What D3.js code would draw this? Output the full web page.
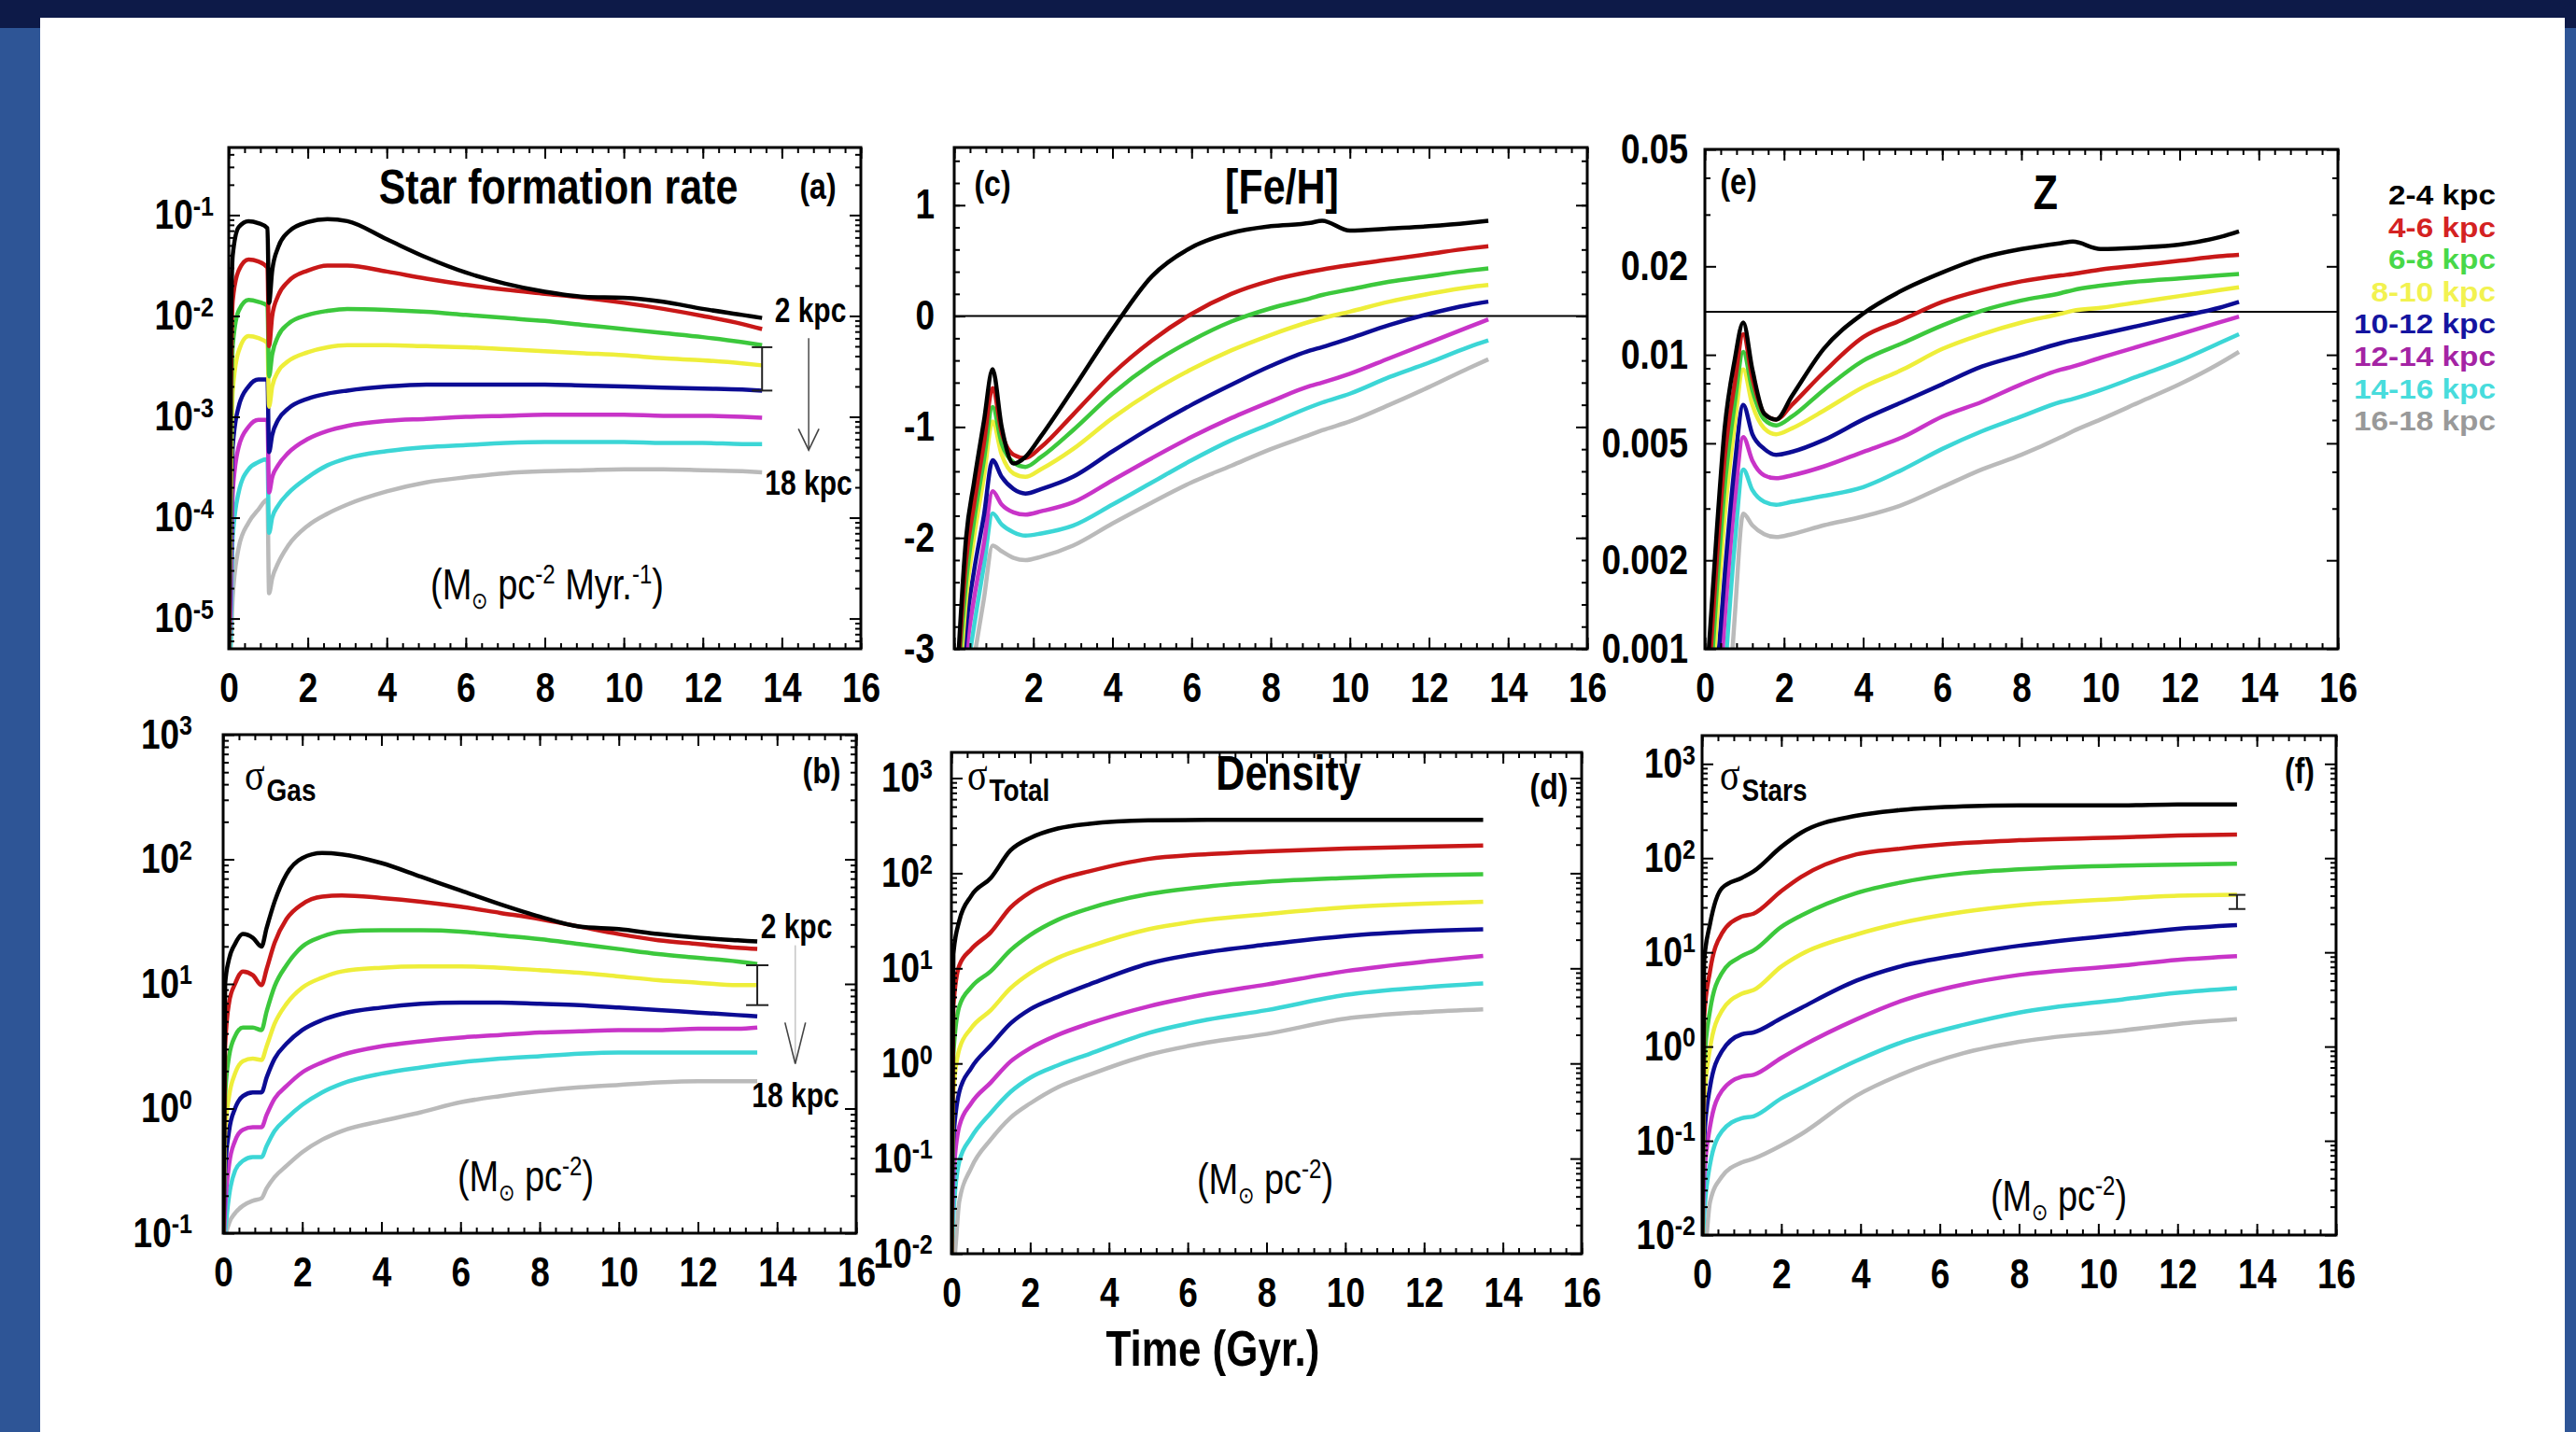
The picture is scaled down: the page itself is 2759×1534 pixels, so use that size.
<!DOCTYPE html>
<html>
<head>
<meta charset="utf-8">
<script src="https://cdn.jsdelivr.net/npm/d3@7"></script>
<style>
  body { margin: 0; background: #fff; }
  svg { display: block; }
</style>
</head>
<body>
<div id="chart"></div>
<script>
// ---------- values ----------
const zones = ['2-4 kpc', '4-6 kpc', '6-8 kpc', '8-10 kpc', '10-12 kpc', '12-14 kpc', '14-16 kpc', '16-18 kpc'];
const xTicks = [0, 2, 4, 6, 8, 10, 12, 14, 16];
const feTicks = [-3, -2, -1, 0, 1];
const zTicks = [0.001, 0.002, 0.005, 0.01, 0.02, 0.05];
const zTickLabels = ['0.001', '0.002', '0.005', '0.01', '0.02', '0.05'];
const zSolar = 0.014;

// (a) star formation rate, log10(Msun pc^-2 Myr^-1)
const sfrTime = [0, 0.04, 0.1, 0.25, 0.5, 0.75, 0.98, 1.02, 1.1, 1.25, 1.5, 2, 2.5, 3, 4, 5, 6, 7, 8, 9, 10, 11, 12, 13, 13.5];
const sfrLog = [
  [-5.3, -2.8, -1.4, -1.12, -1.06, -1.08, -1.13, -1.87, -1.55, -1.32, -1.17, -1.07, -1.04, -1.06, -1.24, -1.42, -1.57, -1.68, -1.76, -1.81, -1.82, -1.86, -1.93, -1.99, -2.02],
  [-5.3, -3.3, -1.85, -1.55, -1.44, -1.46, -1.52, -2.3, -2.0, -1.8, -1.66, -1.55, -1.5, -1.5, -1.56, -1.63, -1.69, -1.74, -1.78, -1.82, -1.87, -1.93, -2.0, -2.08, -2.13],
  [-5.3, -3.8, -2.3, -1.95, -1.84, -1.86, -1.9, -2.6, -2.38, -2.2, -2.08, -1.99, -1.95, -1.93, -1.94, -1.96, -1.99, -2.02, -2.05, -2.09, -2.13, -2.17, -2.21, -2.26, -2.29],
  [-5.3, -4.2, -2.75, -2.35, -2.2, -2.22, -2.27, -2.9, -2.7, -2.55, -2.45, -2.36, -2.31, -2.29, -2.29, -2.3, -2.31, -2.33, -2.35, -2.37, -2.39, -2.42, -2.44, -2.47, -2.49],
  [-5.3, -4.6, -3.3, -2.9, -2.7, -2.63, -2.63, -3.35, -3.18, -3.03, -2.92, -2.82, -2.77, -2.74, -2.7, -2.68, -2.68, -2.68, -2.68, -2.69, -2.7, -2.71, -2.72, -2.73, -2.74],
  [-5.3, -5.0, -3.75, -3.3, -3.1, -3.03, -3.03, -3.75, -3.6, -3.48, -3.36, -3.22, -3.14, -3.09, -3.04, -3.02, -3.0, -2.99, -2.98, -2.98, -2.98, -2.99, -2.99, -3.0, -3.01],
  [-5.3, -5.3, -4.2, -3.75, -3.52, -3.45, -3.42, -4.15, -4.0, -3.88, -3.76, -3.6, -3.48, -3.41, -3.34, -3.3, -3.28, -3.26, -3.25, -3.25, -3.25, -3.26, -3.26, -3.27, -3.27],
  [-5.3, -5.3, -4.8, -4.3, -4.05, -3.92, -3.82, -4.75, -4.6, -4.45, -4.28, -4.08, -3.96, -3.87, -3.74, -3.65, -3.6, -3.56, -3.54, -3.53, -3.52, -3.52, -3.53, -3.54, -3.55]
];
const sfrErrorBar = [13.5, -2.74, -2.31];
const sfrArrow = [14.68, -2.22, -3.33, -3.12];

// (c) [Fe/H] and (e) Z share one time grid
const metalTime = [0.1, 0.3, 0.5, 0.75, 0.97, 1.2, 1.5, 1.8, 2.2, 3, 4, 5, 6, 7, 8, 9, 9.3, 10, 11, 12, 13, 13.5];
const feH = [
  [-3.1, -2.0, -1.5, -0.95, -0.48, -1.0, -1.33, -1.27, -1.08, -0.66, -0.12, 0.36, 0.62, 0.75, 0.81, 0.84, 0.86, 0.77, 0.79, 0.81, 0.84, 0.86],
  [-3.2, -2.2, -1.7, -1.15, -0.65, -1.05, -1.25, -1.28, -1.18, -0.89, -0.52, -0.22, 0.02, 0.2, 0.32, 0.4, 0.42, 0.46, 0.51, 0.56, 0.61, 0.63],
  [-3.3, -2.4, -1.85, -1.3, -0.82, -1.15, -1.32, -1.36, -1.27, -1.03, -0.7, -0.43, -0.22, -0.05, 0.07, 0.16, 0.19, 0.24, 0.31, 0.36, 0.41, 0.43],
  [-3.5, -2.55, -2.0, -1.45, -0.95, -1.25, -1.42, -1.45, -1.38, -1.2, -0.92, -0.68, -0.48, -0.31, -0.17, -0.05, -0.02, 0.04, 0.13, 0.2, 0.26, 0.28],
  [-3.7, -2.8, -2.3, -1.8, -1.3, -1.45, -1.56, -1.6, -1.56, -1.45, -1.22, -1.0, -0.8, -0.62, -0.45, -0.31, -0.28, -0.2, -0.08, 0.02, 0.1, 0.13],
  [-3.9, -3.05, -2.55, -2.05, -1.58, -1.7, -1.77, -1.79, -1.76, -1.68, -1.48, -1.28, -1.09, -0.92, -0.77, -0.63, -0.6, -0.52, -0.38, -0.24, -0.1, -0.03],
  [-4.1, -3.3, -2.8, -2.25, -1.78, -1.88, -1.95, -1.98, -1.96, -1.89, -1.7, -1.5, -1.3, -1.12, -0.97, -0.82, -0.78, -0.7, -0.55, -0.42, -0.28, -0.22],
  [-4.4, -3.6, -3.1, -2.55, -2.07, -2.12, -2.18, -2.2, -2.17, -2.07, -1.87, -1.68, -1.5, -1.35, -1.2, -1.07, -1.03, -0.95, -0.8, -0.64, -0.47, -0.39]
];
// log10 Z
const zLog = [
  [-3.0, -2.6, -2.25, -2.02, -1.89, -2.05, -2.2, -2.22, -2.14, -1.98, -1.86, -1.78, -1.72, -1.67, -1.64, -1.62, -1.615, -1.64, -1.635, -1.625, -1.6, -1.58],
  [-3.1, -2.7, -2.35, -2.1, -1.93, -2.08, -2.2, -2.22, -2.17, -2.06, -1.94, -1.88, -1.82, -1.78, -1.75, -1.73, -1.725, -1.71, -1.695, -1.68, -1.665, -1.66],
  [-3.2, -2.8, -2.45, -2.17, -1.99, -2.12, -2.22, -2.24, -2.21, -2.12, -2.02, -1.96, -1.9, -1.85, -1.815, -1.79, -1.78, -1.765, -1.75, -1.74, -1.73, -1.725],
  [-3.3, -2.9, -2.55, -2.24, -2.05, -2.17, -2.25, -2.27, -2.25, -2.19, -2.11, -2.05, -1.98, -1.93, -1.89, -1.86, -1.85, -1.84, -1.82, -1.8, -1.78, -1.77],
  [-3.5, -3.1, -2.75, -2.38, -2.17, -2.27, -2.32, -2.34, -2.33, -2.29, -2.22, -2.16, -2.1, -2.04, -2.0, -1.96, -1.95, -1.93, -1.9, -1.87, -1.84, -1.82],
  [-3.7, -3.3, -2.9, -2.5, -2.28, -2.36, -2.41, -2.42, -2.41, -2.38, -2.33, -2.28, -2.21, -2.16, -2.1, -2.05, -2.04, -2.01, -1.97, -1.93, -1.89, -1.87],
  [-3.9, -3.5, -3.1, -2.65, -2.39, -2.46, -2.5, -2.51, -2.5, -2.48, -2.45, -2.39, -2.32, -2.26, -2.21, -2.16, -2.15, -2.12, -2.07, -2.02, -1.96, -1.93],
  [-4.2, -3.8, -3.4, -2.9, -2.54, -2.58, -2.61, -2.62, -2.61, -2.58, -2.55, -2.51, -2.45, -2.39, -2.34, -2.28, -2.26, -2.22, -2.16, -2.1, -2.03, -1.99]
];

// (b) gas surface density, log10(Msun pc^-2)
const gasTime = [0, 0.05, 0.15, 0.3, 0.5, 0.75, 0.97, 1.1, 1.3, 1.6, 2, 2.5, 3, 4, 5, 6, 7, 8, 9, 10, 11, 12, 13, 13.5];
const gasLog = [
  [-1.2, 1.0, 1.2, 1.32, 1.4, 1.37, 1.3, 1.45, 1.66, 1.88, 2.01, 2.05, 2.04, 1.97, 1.86, 1.75, 1.64, 1.54, 1.46, 1.44, 1.4, 1.37, 1.35, 1.34],
  [-1.2, 0.5, 0.85, 1.0, 1.1, 1.07, 0.99, 1.12, 1.33, 1.52, 1.64, 1.7, 1.71, 1.69, 1.66, 1.62, 1.57, 1.52, 1.46, 1.4, 1.35, 1.32, 1.29, 1.28],
  [-1.2, 0.1, 0.42, 0.58, 0.65, 0.65, 0.63, 0.78, 0.98, 1.15, 1.3, 1.38, 1.42, 1.43, 1.43, 1.42, 1.39, 1.36, 1.32, 1.28, 1.24, 1.21, 1.18, 1.16],
  [-1.2, -0.2, 0.1, 0.28, 0.38, 0.4, 0.39, 0.5, 0.68, 0.84, 0.97, 1.05, 1.1, 1.13, 1.14, 1.14, 1.13, 1.11, 1.09, 1.06, 1.03, 1.01, 0.99, 0.99],
  [-1.2, -0.5, -0.18, 0.0, 0.1, 0.13, 0.13, 0.25, 0.4, 0.52, 0.63, 0.71, 0.76, 0.81, 0.84, 0.85, 0.85, 0.84, 0.83, 0.81, 0.79, 0.77, 0.75, 0.74],
  [-1.2, -0.8, -0.45, -0.26, -0.17, -0.15, -0.15, -0.05, 0.08, 0.18, 0.29, 0.37, 0.43, 0.5, 0.54, 0.57, 0.59, 0.61, 0.62, 0.63, 0.63, 0.64, 0.64, 0.65],
  [-1.2, -1.0, -0.7, -0.5, -0.42, -0.39, -0.39, -0.3, -0.18, -0.08, 0.03, 0.13, 0.2, 0.28, 0.33, 0.37, 0.4, 0.42, 0.44, 0.45, 0.45, 0.45, 0.45, 0.45],
  [-1.2, -1.05, -0.92, -0.84, -0.78, -0.74, -0.72, -0.64, -0.55, -0.46, -0.35, -0.25, -0.18, -0.1, -0.03, 0.05, 0.1, 0.14, 0.17, 0.19, 0.21, 0.22, 0.22, 0.22]
];
const gasErrorBar = [13.5, 0.83, 1.15];
const gasArrow = [14.46, 1.31, 0.36, 0.69];

// (d) total surface density, log10(Msun pc^-2)
const totalTime = [0, 0.05, 0.2, 0.5, 1.0, 1.5, 2, 2.7, 3.5, 5, 6.5, 8, 10, 12, 13.5];
const totalLog = [
  [-2.1, 1.15, 1.5, 1.76, 1.95, 2.24, 2.37, 2.47, 2.52, 2.555, 2.56, 2.56, 2.56, 2.56, 2.56],
  [-2.1, 0.6, 1.03, 1.2, 1.38, 1.64, 1.8, 1.93, 2.02, 2.15, 2.2, 2.23, 2.26, 2.28, 2.29],
  [-2.1, 0.1, 0.6, 0.8, 0.97, 1.19, 1.35, 1.51, 1.63, 1.78, 1.86, 1.91, 1.95, 1.98, 1.99],
  [-2.1, -0.3, 0.15, 0.37, 0.56, 0.79, 0.95, 1.11, 1.23, 1.41, 1.51, 1.57, 1.64, 1.68, 1.7],
  [-2.1, -0.8, -0.3, -0.05, 0.19, 0.42, 0.57, 0.7, 0.83, 1.05, 1.17, 1.25, 1.34, 1.39, 1.41],
  [-2.1, -1.2, -0.66, -0.42, -0.2, 0.02, 0.16, 0.3, 0.42, 0.6, 0.73, 0.83, 0.97, 1.07, 1.13],
  [-2.1, -1.6, -1.03, -0.78, -0.52, -0.3, -0.15, -0.02, 0.1, 0.32, 0.46, 0.56, 0.72, 0.8, 0.84],
  [-2.1, -2.1, -1.45, -1.1, -0.8, -0.57, -0.42, -0.25, -0.12, 0.09, 0.22, 0.31, 0.47, 0.54, 0.57]
];

// (f) stellar surface density, log10(Msun pc^-2)
const starTime = [0, 0.05, 0.2, 0.5, 1.0, 1.3, 2, 2.5, 3.9, 5, 6.6, 8, 10.6, 12, 13.5];
const starLog = [
  [-2.2, 0.9, 1.3, 1.68, 1.79, 1.86, 2.12, 2.27, 2.45, 2.51, 2.55, 2.56, 2.56, 2.57, 2.57],
  [-2.2, 0.3, 0.8, 1.2, 1.38, 1.41, 1.65, 1.8, 2.04, 2.1, 2.16, 2.19, 2.22, 2.24, 2.25],
  [-2.2, -0.2, 0.38, 0.78, 0.96, 1.02, 1.27, 1.39, 1.63, 1.74, 1.84, 1.88, 1.92, 1.93, 1.94],
  [-2.2, -0.6, -0.02, 0.38, 0.56, 0.6, 0.85, 0.98, 1.19, 1.31, 1.43, 1.5, 1.57, 1.6, 1.61],
  [-2.2, -1.0, -0.43, -0.05, 0.13, 0.15, 0.3, 0.41, 0.7, 0.85, 0.98, 1.07, 1.19, 1.25, 1.29],
  [-2.2, -1.4, -0.85, -0.47, -0.32, -0.3, -0.12, 0.0, 0.29, 0.48, 0.66, 0.76, 0.86, 0.92, 0.96],
  [-2.2, -1.8, -1.25, -0.9, -0.76, -0.74, -0.55, -0.44, -0.15, 0.04, 0.23, 0.36, 0.5, 0.57, 0.62],
  [-2.2, -2.2, -1.65, -1.38, -1.23, -1.19, -1.05, -0.93, -0.52, -0.3, -0.07, 0.05, 0.17, 0.24, 0.29]
];
const starErrorBar = [13.5, 1.46, 1.61];

// ---------- styling ----------
const lineColors = ['#000000', '#c81818', '#3cc83c', '#eeee3a', '#0c0c94', '#c834c8', '#3cd6d6', '#bababa'];
const legendColors = ['#000000', '#d42222', '#48d848', '#f2f250', '#1414a0', '#a424a4', '#48dcdc', '#999999'];
const FONT = '"Liberation Sans", Arial, sans-serif';
const K = 1.2;   // the original figure's lettering is stretched vertically

const W = 2759, H = 1534;
const svg = d3.select('#chart').append('svg')
    .attr('width', W)
    .attr('height', H)
    .attr('font-family', FONT);

// page backdrop: blue frame, dark strip on top, white sheet
svg.append('rect').attr('width', W).attr('height', H).attr('fill', '#2e5596');
svg.append('rect').attr('width', W).attr('height', 30).attr('fill', '#0d1a48');
svg.append('rect').attr('x', 43).attr('y', 19).attr('width', 2704).attr('height', H - 19).attr('fill', '#fff');

function logMinors(lo, hi) {
    const out = [];
    for (let e = Math.floor(lo); e <= Math.ceil(hi); e++) {
        for (let m = 2; m <= 9; m++) {
            const v = m * Math.pow(10, e);
            if (Math.log10(v) >= lo && Math.log10(v) <= hi) out.push(v);
        }
    }
    return out;
}

function powerLabels(g) {
    g.selectAll('.tick text').each(function(d) {
        const e = Math.round(Math.log10(d));
        const t = d3.select(this).text(null);
        t.append('tspan').text('10');
        t.append('tspan').attr('dy', -12).attr('font-size', 25).text(e);
    });
}

function drawPanel(p) {
    const x = d3.scaleLinear().domain([0, 16]).range([p.l, p.r]);
    const y = (p.log ? d3.scaleLog() : d3.scaleLinear()).domain(p.yDomain).range([p.b, p.t]);

    const clipId = 'clip-' + p.id;
    svg.append('clipPath').attr('id', clipId)
        .append('rect')
        .attr('x', p.l).attr('y', p.t)
        .attr('width', p.r - p.l).attr('height', p.b - p.t);
    const plot = svg.append('g').attr('clip-path', 'url(#' + clipId + ')');

    if (p.refLine != null) {
        plot.append('line')
            .attr('x1', p.l).attr('x2', p.r)
            .attr('y1', y(p.refLine)).attr('y2', y(p.refLine))
            .attr('stroke', '#000').attr('stroke-width', 2);
    }

    const line = d3.line()
        .x(d => x(d[0]))
        .y(d => y(d[1]))
        .curve(d3.curveMonotoneX);

    for (let k = p.series.length - 1; k >= 0; k--) {
        const pts = p.time.map((t, i) => [t, p.log ? Math.pow(10, p.series[k][i]) : p.series[k][i]]);
        plot.append('path')
            .attr('d', line(pts))
            .attr('fill', 'none')
            .attr('stroke', lineColors[k])
            .attr('stroke-width', 4.5)
            .attr('stroke-linejoin', 'round');
    }

    const axis = (gen, tr) => svg.append('g')
        .attr('transform', tr)
        .call(gen)
        .call(g => g.select('.domain').remove())
        .call(g => g.selectAll('.tick line').attr('stroke-width', 2));

    const xMinor = d3.range(0, 16.001, p.xMinorStep);
    axis(d3.axisBottom(x).tickValues(xMinor).tickSize(-6).tickFormat(''), 'translate(0,' + p.b + ')');
    axis(d3.axisTop(x).tickValues(xMinor).tickSize(-6).tickFormat(''), 'translate(0,' + p.t + ')');
    axis(d3.axisTop(x).tickValues(xTicks).tickSize(-12).tickFormat(''), 'translate(0,' + p.t + ')');
    axis(d3.axisBottom(x).tickValues(xTicks).tickSize(-12).tickPadding(21)
            .tickFormat(d => (p.skipZero && d === 0) ? '' : d), 'translate(0,' + p.b + ')')
        .attr('font-size', 37).attr('font-family', FONT).attr('font-weight', 'bold')
        .call(g => g.selectAll('.tick text').attr('transform', 'scale(1,' + K + ')'));

    axis(d3.axisLeft(y).tickValues(p.yMinor).tickSize(-6).tickFormat(''), 'translate(' + p.l + ',0)');
    axis(d3.axisRight(y).tickValues(p.yMinor).tickSize(-6).tickFormat(''), 'translate(' + p.r + ',0)');
    axis(d3.axisRight(y).tickValues(p.yMajor).tickSize(-12).tickFormat(''), 'translate(' + p.r + ',0)');
    const left = axis(d3.axisLeft(y).tickValues(p.yMajor).tickSize(-12).tickPadding(p.gap)
            .tickFormat(p.yFormat || (d => d)), 'translate(' + p.l + ',0)')
        .attr('font-size', 37).attr('font-family', FONT).attr('font-weight', 'bold');
    if (p.power) left.call(powerLabels);
    left.selectAll('.tick text').attr('transform', 'scale(1,' + K + ')');

    svg.append('rect')
        .attr('x', p.l).attr('y', p.t)
        .attr('width', p.r - p.l).attr('height', p.b - p.t)
        .attr('fill', 'none').attr('stroke', '#000').attr('stroke-width', 3);

    return { x, y };
}

// text anchored at (x, baseline y), stretched by sx, sy
function textAt(x, y, sx = 1, sy = K) {
    return svg.append('text').attr('transform', 'translate(' + x + ',' + y + ') scale(' + sx + ',' + sy + ')');
}

function addText(x, y, str, size, opts = {}) {
    return textAt(x, y, opts.sx || 1, opts.sy || K)
        .attr('font-size', size)
        .attr('font-weight', opts.weight || 'bold')
        .attr('text-anchor', opts.anchor || 'middle')
        .attr('fill', opts.fill || '#000')
        .text(str);
}

function unitText(x, y, withTime) {
    const t = textAt(x, y)
        .attr('font-size', 38)
        .attr('text-anchor', 'middle');
    t.append('tspan').text('(M');
    t.append('tspan').attr('font-size', 21).attr('dy', 8).text('\u2299');
    t.append('tspan').attr('dy', -8).text(' pc');
    t.append('tspan').attr('font-size', 24).attr('dy', -14).text('-2');
    if (withTime) {
        t.append('tspan').attr('dy', 14).text(' Myr.');
        t.append('tspan').attr('font-size', 24).attr('dy', -14).text('-1');
    }
    t.append('tspan').attr('dy', 14).text(')');
}

function sigmaText(x, y, sub) {
    const t = textAt(x, y);
    t.append('tspan').attr('font-size', 40).attr('font-family', '"Liberation Serif", serif').text('\u03c3');
    t.append('tspan').attr('font-size', 28).attr('font-weight', 'bold').attr('dy', 10).attr('dx', 2).text(sub);
}

function errorBar(s, bar, half) {
    const xv = s.x(bar[0]);
    const y1 = s.y(Math.pow(10, bar[1])), y2 = s.y(Math.pow(10, bar[2]));
    const g = svg.append('g').attr('stroke', '#222').attr('stroke-width', 2);
    g.append('line').attr('x1', xv).attr('x2', xv).attr('y1', y1).attr('y2', y2);
    g.append('line').attr('x1', xv - half).attr('x2', xv + half).attr('y1', y1).attr('y2', y1);
    g.append('line').attr('x1', xv - half).attr('x2', xv + half).attr('y1', y2).attr('y2', y2);
}

function arrow(s, a, shaftColor) {
    const xv = s.x(a[0]);
    const yTop = s.y(Math.pow(10, a[1])), yTip = s.y(Math.pow(10, a[2])), yHead = s.y(Math.pow(10, a[3]));
    svg.append('line').attr('x1', xv).attr('x2', xv).attr('y1', yTop).attr('y2', yTip)
        .attr('stroke', shaftColor).attr('stroke-width', 1.6);
    svg.append('path')
        .attr('d', d3.line()([[xv - 11, yHead], [xv, yTip], [xv + 11, yHead]]))
        .attr('fill', 'none').attr('stroke', '#444').attr('stroke-width', 1.6);
}

// ---------- panels ----------
const pa = drawPanel({
    id: 'a', l: 245, r: 922, t: 158, b: 695, gap: 16,
    log: true, power: true, yDomain: [Math.pow(10, -5.3), Math.pow(10, -0.33)],
    yMajor: [1e-5, 1e-4, 1e-3, 1e-2, 1e-1], yMinor: logMinors(-5.3, -0.33),
    xMinorStep: 0.4, time: sfrTime, series: sfrLog
});
const pc = drawPanel({
    id: 'c', l: 1022, r: 1700, t: 158, b: 695, gap: 21,
    log: false, yDomain: [-3, 1.52], yMajor: feTicks, yMinor: d3.range(-3, 1.52, 0.2),
    xMinorStep: 0.4, skipZero: true, refLine: 0, time: metalTime, series: feH
});
const pe = drawPanel({
    id: 'e', l: 1826, r: 2504, t: 160, b: 695, gap: 18,
    log: true, yDomain: [0.001, 0.05], yMajor: zTicks,
    yMinor: logMinors(-3, Math.log10(0.05)).filter(v => !zTicks.some(z => Math.abs(z - v) < 1e-9)),
    yFormat: d => zTickLabels[zTicks.indexOf(d)],
    xMinorStep: 0.4, refLine: zSolar, time: metalTime, series: zLog
});
const pb = drawPanel({
    id: 'b', l: 239, r: 917, t: 787, b: 1321, gap: 33,
    log: true, power: true, yDomain: [0.1, 1000],
    yMajor: [0.1, 1, 10, 100, 1000], yMinor: logMinors(-1, 3),
    xMinorStep: 0.4, time: gasTime, series: gasLog
});
const pd = drawPanel({
    id: 'd', l: 1019, r: 1694, t: 806, b: 1343, gap: 20,
    log: true, power: true, yDomain: [0.01, Math.pow(10, 3.27)],
    yMajor: [0.01, 0.1, 1, 10, 100, 1000], yMinor: logMinors(-2, 3.27),
    xMinorStep: 0.4, time: totalTime, series: totalLog
});
const pf = drawPanel({
    id: 'f', l: 1823, r: 2502, t: 788, b: 1323, gap: 7,
    log: true, power: true, yDomain: [0.01, Math.pow(10, 3.3)],
    yMajor: [0.01, 0.1, 1, 10, 100, 1000], yMinor: logMinors(-2, 3.3),
    xMinorStep: 0.4, time: starTime, series: starLog
});

// ---------- annotations ----------
addText(598, 218, 'Star formation rate', 43);
addText(876, 213, '(a)', 32);
addText(868, 345, '2 kpc', 30);
addText(866, 530, '18 kpc', 30);
errorBar(pa, sfrErrorBar, 11);
arrow(pa, sfrArrow, '#555');
unitText(586, 642, true);

addText(1063, 210, '(c)', 32);
addText(1373, 218, '[Fe/H]', 43);

addText(1862, 208, '(e)', 32);
addText(2191, 224, 'Z', 43);

sigmaText(262, 846, 'Gas');
addText(880, 839, '(b)', 32);
addText(853, 1005, '2 kpc', 30);
addText(852, 1186, '18 kpc', 30);
errorBar(pb, gasErrorBar, 12);
arrow(pb, gasArrow, '#c8c8c8');
unitText(563, 1276, false);

sigmaText(1036, 846, 'Total');
addText(1380, 846, 'Density', 43);
addText(1659, 856, '(d)', 32);
unitText(1355, 1279, false);
addText(1299, 1463, 'Time (Gyr.)', 44);

sigmaText(1842, 846, 'Stars');
addText(2463, 839, '(f)', 32);
errorBar(pf, starErrorBar, 9);
unitText(2205, 1297, false);

// legend: widened rather than heightened so the rows stay clear of each other
zones.forEach((z, i) => {
    addText(2673, 219 + i * 34.6, z, 29, { anchor: 'end', fill: legendColors[i], sx: 1.15, sy: 1 });
});
</script>
</body>
</html>
